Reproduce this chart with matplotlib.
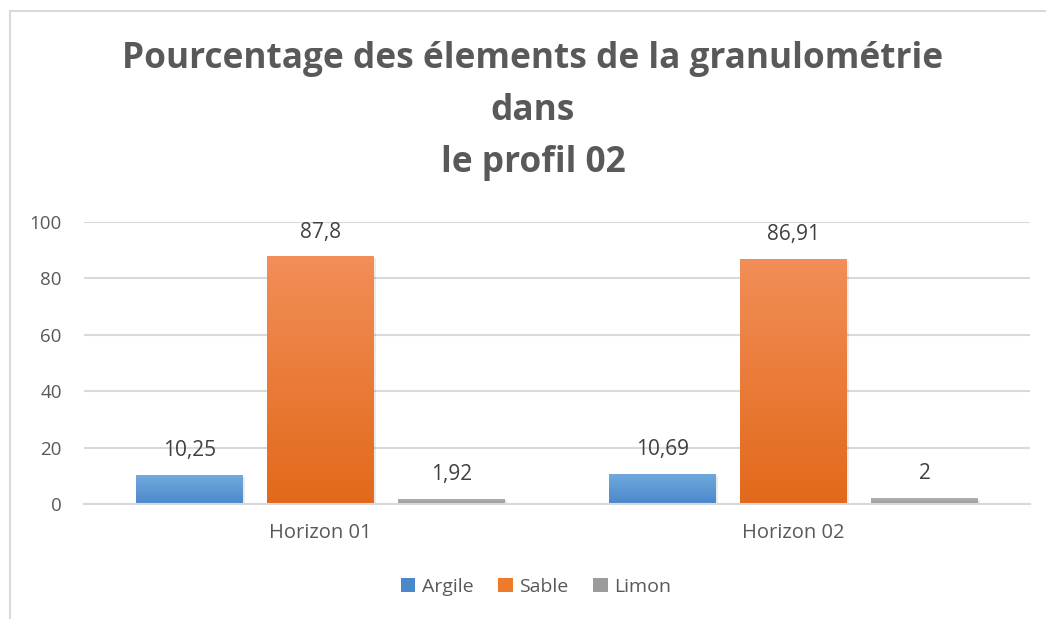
import matplotlib
matplotlib.use("Agg")
import matplotlib.pyplot as plt
import numpy as np
from matplotlib.patches import Rectangle
from matplotlib.colors import LinearSegmentedColormap

categories = ["Horizon 01", "Horizon 02"]
series_names = ["Argile", "Sable", "Limon"]
argile = [10.25, 10.69]
sable = [87.8, 86.91]
limon = [1.92, 2]
labels_argile = ["10,25", "10,69"]
labels_sable = ["87,8", "86,91"]
labels_limon = ["1,92", "2"]
yticks = [0, 20, 40, 60, 80, 100]

title = "Pourcentage des élements de la granulométrie\ndans\nle profil 02"

W, H = 1046, 619
fig = plt.figure(figsize=(W / 100, H / 100), dpi=100)
fig.patch.set_facecolor("white")

# outer chart border (partially visible)
fig.patches.append(Rectangle((10 / W, -0.1), 1.2, 1 - 11 / H + 0.1,
                             transform=fig.transFigure, fill=False,
                             edgecolor="#d9d9d9", linewidth=1.5))

ax = fig.add_axes([84 / W, (H - 504) / H, (1030 - 84) / W, (504 - 222) / H])
ax.set_xlim(-0.5, 1.5)
ax.set_ylim(0, 100)

x = np.arange(len(categories))
width = 0.226
offset = 0.277
grads = [("#72aade", "#4a88cb"), ("#f28e58", "#e2691a"), ("#b0b0b0", "#9c9c9c")]
data = [argile, sable, limon]
lbls = [labels_argile, labels_sable, labels_limon]
handles = []
for i, (vals, (ctop, cbot), lb) in enumerate(zip(data, grads, lbls)):
    bars = ax.bar(x + (i - 1) * offset, vals, width, color=cbot, zorder=2,
                  label=series_names[i], edgecolor="none")
    cmap = LinearSegmentedColormap.from_list("g%d" % i, [cbot, ctop])
    for b in bars:
        x0, w, h = b.get_x(), b.get_width(), b.get_height()
        grad = np.linspace(0, 1, 256).reshape(-1, 1)
        im = ax.imshow(grad, cmap=cmap, origin="lower", aspect="auto",
                       extent=(x0, x0 + w, 0, h), zorder=2.1)
        im.set_clip_path(b)
        # subtle shadow
        ax.add_patch(Rectangle((x0 + 0.004, -0.6), w, h, facecolor="#000000",
                               alpha=0.08, zorder=1.9, edgecolor="none"))
    for b, t in zip(bars, lb):
        ax.annotate(t, (b.get_x() + b.get_width() / 2, b.get_height()),
                    xytext=(0, 10), textcoords="offset points",
                    ha="center", va="bottom", fontsize=15, color="#404040",
                    family="Open Sans")
    handles.append(Rectangle((0, 0), 1, 1, facecolor=(cbot if i != 1 else "#ee7a2c")))

ax.set_yticks(yticks)
ax.set_yticklabels([str(v) for v in yticks])
ax.yaxis.grid(True, color="#d9d9d9", linewidth=1.5, zorder=0)
ax.set_axisbelow(True)
for s in ["top", "right", "left"]:
    ax.spines[s].set_visible(False)
ax.spines["bottom"].set_color("#d9d9d9")
ax.spines["bottom"].set_linewidth(1.5)
ax.set_xticks(x)
ax.set_xticklabels(categories)
ax.tick_params(axis="both", length=0, labelcolor="#595959")
ax.tick_params(axis="y", pad=16, labelsize=13.5)
ax.tick_params(axis="x", pad=14, labelsize=14.5)
for t in ax.get_xticklabels() + ax.get_yticklabels():
    t.set_family("Open Sans")

fig.text(533 / W, 1 - 111 / H, title, ha="center", va="center",
         fontsize=25.4, fontweight="bold", color="#595959", family="Open Sans",
         linespacing=1.6)

fig.legend(handles, series_names, loc="center", bbox_to_anchor=(536 / W, 1 - 587 / H),
           ncol=3, frameon=False, prop={"family": "Open Sans", "size": 14},
           labelcolor="#595959", handlelength=0.75, handleheight=0.75,
           handletextpad=0.35, columnspacing=1.25)

fig.savefig("out.png", dpi=100, facecolor="white")
